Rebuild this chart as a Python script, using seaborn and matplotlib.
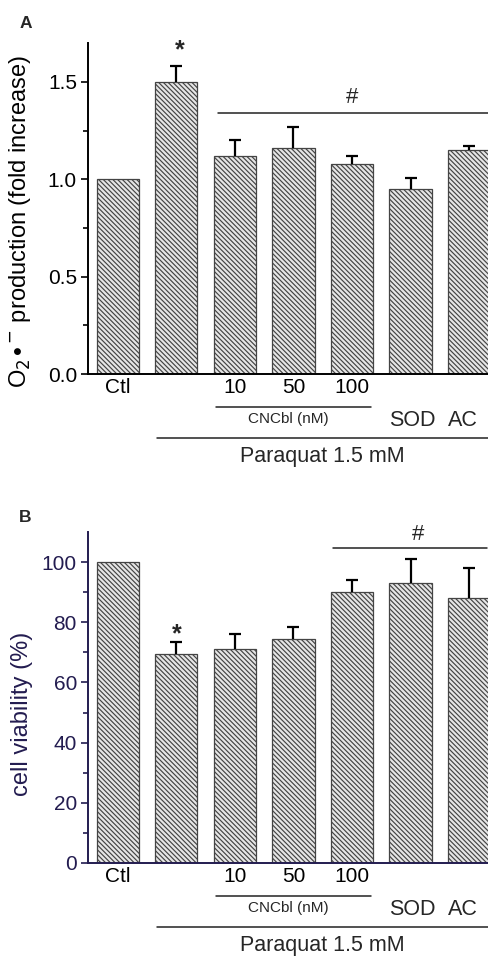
import matplotlib
matplotlib.use("Agg")
import matplotlib.pyplot as plt
import matplotlib.transforms as mtransforms
import matplotlib.ticker as mticker
import seaborn as sns

# data
groups = ["Ctl", "PQ", "10", "50", "100", "SOD", "AC"]
tick_labels = ["Ctl", "", "10", "50", "100", "", ""]
o2_mean = [1.00, 1.50, 1.12, 1.16, 1.08, 0.95, 1.15]
o2_err = [0.00, 0.08, 0.08, 0.11, 0.04, 0.055, 0.02]
viab_mean = [100.0, 69.5, 71.0, 74.5, 90.0, 93.0, 88.0]
viab_err = [0.0, 4.0, 5.0, 4.0, 4.0, 8.0, 10.0]

sns.set_style("ticks")
plt.rcParams["font.family"] = ["Liberation Sans", "DejaVu Sans"]
plt.rcParams["hatch.color"] = "#333333"
plt.rcParams["hatch.linewidth"] = 0.85

fig = plt.figure(figsize=(4.89, 9.58), dpi=100)
axA = fig.add_axes([0.18, 0.6096, 0.82, 0.3455])
axB = fig.add_axes([0.18, 0.0992, 0.82, 0.3455])


def draw_panel(ax, means, errs, col, ylabel, ylim, major, minor):
    sns.barplot(x=groups, y=means, ax=ax, errorbar=None, width=0.72,
                color="#e6e6e6", edgecolor="#444444", linewidth=0.9,
                hatch="\\" * 7, saturation=1)
    # only the upper half of the error bars, skip zero errors
    idx = [i for i, e in enumerate(errs) if e > 0]
    _, caps, _ = ax.errorbar(idx, [means[i] for i in idx],
                             yerr=[[0] * len(idx), [errs[i] for i in idx]],
                             fmt="none", ecolor="black", elinewidth=1.6,
                             capsize=4.5, capthick=1.6)
    caps[0].set_visible(False)
    ax.set_xlim(-0.51, 6.34)
    ax.set_ylim(*ylim)
    ax.set_yticks(major)
    ax.set_yticks(minor, minor=True)
    ax.set_xticks(range(len(groups)))
    ax.set_xticklabels(tick_labels, fontsize=15)
    ax.tick_params(axis="x", length=0, pad=3, colors="black")
    ax.tick_params(axis="y", which="major", length=5, width=1.2, pad=3,
                   labelsize=15, colors=col, direction="out")
    ax.tick_params(axis="y", which="minor", length=3.5, width=1.2,
                   colors=col, direction="out")
    for s in ["top", "right"]:
        ax.spines[s].set_visible(False)
    for s in ["left", "bottom"]:
        ax.spines[s].set_color(col)
        ax.spines[s].set_linewidth(1.4)
    ax.set_ylabel(ylabel, fontsize=17, color=col)

    # group labels under the axis
    tr = mtransforms.blended_transform_factory(ax.transData, ax.transAxes)
    ax.plot([1.675, 4.32], [-0.0997, -0.0997], transform=tr, color="#222222",
            lw=1.1, clip_on=False)
    ax.text(2.92, -0.137, "CNCbl (nM)", transform=tr, ha="center",
            va="center", fontsize=11)
    ax.text(5.03, -0.14, "SOD", transform=tr, ha="center", va="center",
            fontsize=15.5)
    ax.text(5.64, -0.14, "AC", transform=tr, ha="left", va="center",
            fontsize=15.5)
    ax.plot([0.667, 6.6], [-0.193, -0.193], transform=tr, color="#222222",
            lw=1.1, clip_on=False)
    ax.text(3.49, -0.25, "Paraquat 1.5 mM", transform=tr, ha="center",
            va="center", fontsize=15.5)


draw_panel(axA, o2_mean, o2_err, "black",
           r"O$_2$$\bullet^{-}$ production (fold increase)",
           (0, 1.7), [0.0, 0.5, 1.0, 1.5], [0.25, 0.75, 1.25])
axA.yaxis.set_major_formatter(mticker.FormatStrFormatter("%.1f"))
axA.yaxis.set_label_coords(-0.137, 0.46)
axA.text(1.05, 1.66, "*", ha="center", va="center", fontsize=18,
         fontweight="bold")
axA.plot([1.71, 6.6], [1.34, 1.34], color="#222222", lw=1.1, clip_on=False)
axA.text(4.0, 1.42, "#", ha="center", va="center", fontsize=16)
fig.text(0.052, 0.975, "A", fontsize=12.5, fontweight="bold", ha="center",
         va="center")

navy = "#231c50"
draw_panel(axB, viab_mean, viab_err, navy, "cell viability (%)",
           (0, 110), [0, 20, 40, 60, 80, 100], [10, 30, 50, 70, 90])
axB.yaxis.set_label_coords(-0.137, 0.45)
axB.text(1.0, 76.0, "*", ha="center", va="center", fontsize=18,
         fontweight="bold")
axB.plot([3.675, 6.31], [104.7, 104.7], color="#222222", lw=1.1,
         clip_on=False)
axB.text(5.13, 109.0, "#", ha="center", va="center", fontsize=16)
fig.text(0.052, 0.46, "B", fontsize=12.5, fontweight="bold", ha="center",
         va="center")

fig.savefig("out.png", dpi=100)
